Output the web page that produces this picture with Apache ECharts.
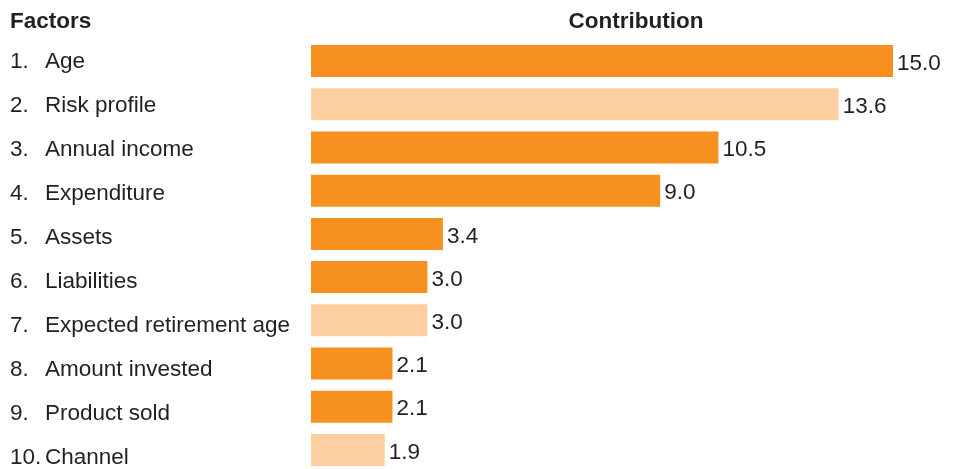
<!DOCTYPE html>
<html><head><meta charset="utf-8">
<script src="https://cdn.jsdelivr.net/npm/echarts@6/dist/echarts.min.js"></script>
<style>html,body{margin:0;padding:0;background:#fff}#c{width:960px;height:469px}</style>
</head><body><div id="c"></div>
<script>
const factors = ['Age','Risk profile','Annual income','Expenditure','Assets','Liabilities','Expected retirement age','Amount invested','Product sold','Channel'];
const values = [15.0,13.6,10.5,9.0,3.4,3.0,3.0,2.1,2.1,1.9];
const highlighted = [false,true,false,false,false,false,true,false,false,true];
const headers = ['Factors','Contribution'];

const FONT = 'Liberation Sans';
const TXT = '#231f20';
const DARK = '#f6901e';
const LIGHT = '#fbcfa0';
const FS = 22.5;

const chart = echarts.init(document.getElementById('c'), null, {renderer:'canvas'});
chart.setOption({
  animation:false,
  textStyle:{fontFamily:FONT},
  title:[
    {text:headers[0], left:5, top:5, textStyle:{fontFamily:FONT, fontSize:22.5, fontWeight:'bold', color:TXT}},
    {text:headers[1], left:631, top:5, textAlign:'center', textStyle:{fontFamily:FONT, fontSize:22.5, fontWeight:'bold', color:TXT}}
  ],
  grid:[
    {left:311, right:67, top:61, bottom:19, containLabel:false},
    {left:310, right:67, top:61.5, bottom:9.5, containLabel:false}
  ],
  xAxis:[
    {gridIndex:0, type:'value', min:0, max:15, show:false},
    {gridIndex:1, type:'value', min:0, max:15, show:false}
  ],
  yAxis:[
    {gridIndex:0, type:'category', boundaryGap:false, data:factors, inverse:true, show:false},
    {gridIndex:1, type:'category', boundaryGap:false, data:factors.map((f,i)=>(i+1)+'.|'+f), inverse:true,
     axisLine:{show:false}, axisTick:{show:false}, splitLine:{show:false},
     axisLabel:{margin:300, align:'left', color:TXT, fontFamily:FONT, fontSize:FS, interval:0,
       formatter:function(v){const p=v.split('|');return '{n|'+p[0]+'}{t|'+p[1]+'}';},
       rich:{n:{width:35, fontFamily:FONT, fontSize:FS, color:TXT}, t:{fontFamily:FONT, fontSize:FS, color:TXT}}}}
  ],
  series:[{
    type:'bar', xAxisIndex:0, yAxisIndex:0, barWidth:32, clip:false,
    data:values.map((v,i)=>({value:v, itemStyle:{color:highlighted[i]?LIGHT:DARK}})),
    label:{show:true, position:'right', distance:4, color:TXT, fontFamily:FONT, fontSize:FS,
      formatter:p=>p.value.toFixed(1), offset:[0,2.5]}
  }]
});
</script></body></html>
